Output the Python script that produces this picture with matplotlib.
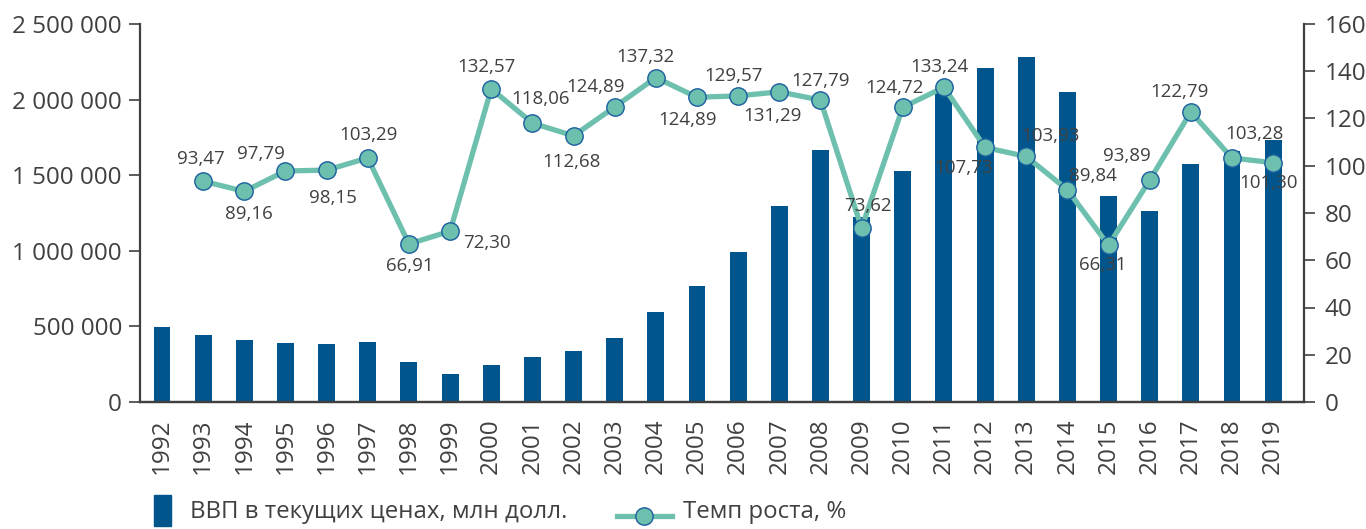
import matplotlib
matplotlib.use('Agg')
import matplotlib.pyplot as plt
from matplotlib.ticker import FuncFormatter, MultipleLocator
from matplotlib.patches import Rectangle
from matplotlib.lines import Line2D

plt.rcParams['font.family'] = ['Open Sans', 'DejaVu Sans']

years = list(range(1992, 2020))
gdp = [496000, 443000, 410000, 390000, 384000, 397000, 265000, 185000,
       245000, 298000, 337000, 423000, 595000, 767000, 992000, 1296000,
       1667000, 1222000, 1528000, 2050000, 2209000, 2282000, 2050000,
       1362000, 1263000, 1574000, 1660000, 1733000]

growth_years = list(range(1993, 2020))
growth = [93.47, 89.16, 97.79, 98.15, 103.29, 66.91, 72.30, 132.57, 118.06,
          112.68, 124.89, 137.32, 129.0, 129.57, 131.29, 127.79, 73.62,
          124.72, 133.24, 107.73, 103.93, 89.84, 66.31, 93.89, 122.79,
          103.28, 101.30]
growth_labels = ['93,47', '89,16', '97,79', '98,15', '103,29', '66,91', '72,30',
                 '132,57', '118,06', '112,68', '124,89', '137,32', '124,89',
                 '129,57', '131,29', '127,79', '73,62', '124,72', '133,24',
                 '107,73', '103,93', '89,84', '66,31', '93,89', '122,79',
                 '103,28', '101,30']

# label offsets from the marker, pixels (dx, dy with y up)
label_off = [(-2, 22), (5, -23), (-25, 17), (6, -28), (1, 23), (1, -22),
             (37, -12), (-5, 22), (8, 24), (-2, -26), (-19, 20), (-10, 21),
             (-9, -23), (-5, 20), (-7, -24), (0, 19), (6, 22), (-8, 19),
             (-4, 20), (-22, -21), (24, 20), (26, 14), (-6, -20), (-23, 24),
             (-11, 20), (23, 24), (-5, -20)]

bar_color = '#00568c'
line_color = '#6dbfae'
edge_color = '#1a5ea0'
txt = '#404040'

W, H = 1366, 529
fig = plt.figure(figsize=(W / 100, H / 100), dpi=100)
ax = fig.add_axes([140 / W, 1 - 402 / H, (1304 - 140) / W, (402 - 24) / H])
ax2 = ax.twinx()

x = list(range(len(years)))
gx = [years.index(y) for y in growth_years]

ax.bar(x, gdp, width=0.41, color=bar_color, zorder=2)
ax.set_xlim(-0.535, 27.75)
ax.set_ylim(0, 2500000)
ax.yaxis.set_major_locator(MultipleLocator(500000))
ax.yaxis.set_major_formatter(FuncFormatter(lambda v, p: f'{int(v):,}'.replace(',', ' ')))
ax.set_xticks(x)
ax.set_xticklabels([str(y) for y in years], rotation=90, va='top')

ax2.plot(gx, growth, color=line_color, lw=3.8, marker='o', ms=12.5,
         mfc=line_color, mec=edge_color, mew=1.0, zorder=3)
ax2.set_ylim(0, 160)
ax2.yaxis.set_major_locator(MultipleLocator(20))

for xi, v, lab, (dx, dy) in zip(gx, growth, growth_labels, label_off):
    ax2.annotate(lab, (xi, v), xytext=(dx, dy), textcoords='offset pixels',
                 ha='center', va='center', fontsize=13.5, color=txt, zorder=5)

for a in (ax, ax2):
    a.spines['top'].set_visible(False)
    for s in ('left', 'right', 'bottom'):
        a.spines[s].set_color(txt)
        a.spines[s].set_linewidth(1.6)
    a.tick_params(axis='y', length=8, width=1.2, color=txt, labelcolor=txt,
                  labelsize=17.5, pad=5)
ax.spines['right'].set_visible(False)
ax2.spines['left'].set_visible(False)
ax2.tick_params(axis='y', pad=7)
ax.tick_params(axis='x', length=0, labelcolor=txt, labelsize=17.5, pad=12)

# legend
fig.patches.append(Rectangle((154 / W, 1 - 526 / H), 17 / W, 31 / H,
                             transform=fig.transFigure, color=bar_color))
fig.text(190 / W, 1 - 512 / H, 'ВВП в текущих ценах, млн долл.', fontsize=17.3,
         color=txt, va='center', ha='left')
fig.lines.append(Line2D([617 / W, 672 / W], [1 - 516 / H, 1 - 516 / H],
                        transform=fig.transFigure, color=line_color, lw=3.8))
fig.lines.append(Line2D([644 / W], [1 - 516 / H], transform=fig.transFigure,
                        marker='o', ms=12.5, mfc=line_color, mec=edge_color,
                        mew=1.0, color=line_color))
fig.text(683 / W, 1 - 512 / H, 'Темп роста, %', fontsize=17.3, color=txt,
         va='center', ha='left')

fig.savefig('out.png', dpi=100)
